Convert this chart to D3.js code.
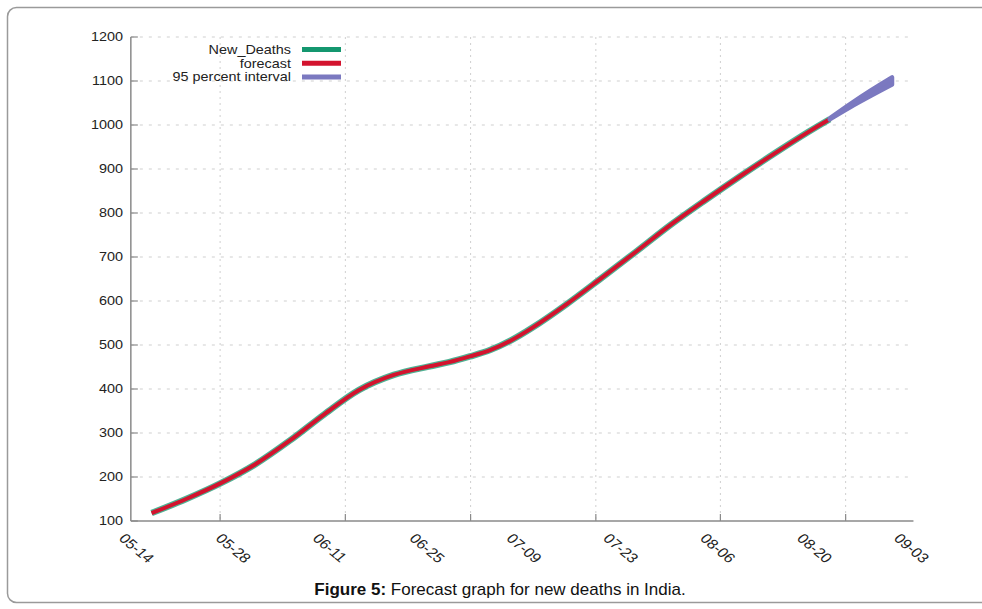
<!DOCTYPE html>
<html>
<head>
<meta charset="utf-8">
<script src="https://cdn.jsdelivr.net/npm/d3@7"></script>
<style>
  body { margin: 0; background: #fff; }
  text { font-family: "Liberation Sans", Arial, sans-serif; }
</style>
</head>
<body>
<svg id="chart" width="982" height="609"></svg>
<script>
// New_Deaths (the forecast fit sits right on top of it)
var obsDates = ["2020-05-19", "2020-05-24", "2020-05-29", "2020-06-03", "2020-06-08",
    "2020-06-13", "2020-06-18", "2020-06-23", "2020-06-28", "2020-07-01", "2020-07-04",
    "2020-07-07", "2020-07-10", "2020-07-13", "2020-07-18", "2020-07-23", "2020-07-28",
    "2020-08-02", "2020-08-07", "2020-08-12", "2020-08-17", "2020-08-22", "2020-08-25"];
var obsValues = [118, 150, 186, 229, 283, 343, 398, 432, 451, 461, 474,
    489, 511, 539, 593, 652, 712, 773, 829, 883, 935, 985, 1013];

// 95 percent interval of the forecast
var bandDates = ["2020-08-25", "2020-08-28", "2020-08-31", "2020-09-03"];
var bandLower = [1013, 1041, 1067, 1092];
var bandUpper = [1015, 1048, 1079, 1108];

// tick labels on the x axis (every 14 days)
var labelDates = ["2020-05-14", "2020-05-28", "2020-06-11", "2020-06-25", "2020-07-09",
    "2020-07-23", "2020-08-06", "2020-08-20", "2020-09-03"];
// the plot frame has its own ticks, in days after 05-14
var gridDays = [14.9, 33, 51.1, 69.2, 87.2, 105.3];
var frameDays = [2, 115.1];
var yTicks = [100, 200, 300, 400, 500, 600, 700, 800, 900, 1000, 1100, 1200];

var legendNames = ["New_Deaths", "forecast", "95 percent interval"];
var legendColors = ["#14976f", "#d3132e", "#7b79c0"];

var parse = d3.timeParse("%Y-%m-%d");
var start = parse(labelDates[0]);
function dayOf(s) { return (parse(s) - start) / 864e5; }

var svg = d3.select("#chart");

// frame of the figure
svg.append("rect")
    .attr("x", 7.5).attr("y", 7.5)
    .attr("width", 1000).attr("height", 595)
    .attr("rx", 9)
    .attr("fill", "none")
    .attr("stroke", "#9a9a9a")
    .attr("stroke-width", 1.5);

// scales
var x = d3.scaleLinear().domain([0, 112]).range([117, 892]);
var y = d3.scaleLinear().domain([100, 1200]).range([521, 37]);

var x0 = x(frameDays[0]), x1 = x(frameDays[1]);
var stretch = 1.2;  // the original image is stretched sideways

// grid
svg.append("g").selectAll("line")
    .data(yTicks.slice(1))
    .enter().append("line")
    .attr("x1", x0).attr("x2", x1)
    .attr("y1", function (d) { return y(d); })
    .attr("y2", function (d) { return y(d); })
    .attr("stroke", "#cfcfcf")
    .attr("stroke-dasharray", "3,6");

svg.append("g").selectAll("line")
    .data(gridDays)
    .enter().append("line")
    .attr("x1", function (d) { return x(d); })
    .attr("x2", function (d) { return x(d); })
    .attr("y1", y(1200)).attr("y2", y(100))
    .attr("stroke", "#cfcfcf")
    .attr("stroke-dasharray", "2,4");

// axes lines and ticks
svg.append("line")
    .attr("x1", x0).attr("x2", x0)
    .attr("y1", y(1200)).attr("y2", y(100))
    .attr("stroke", "#8a8a8a").attr("stroke-width", 1.5);
svg.append("line")
    .attr("x1", x0).attr("x2", x1)
    .attr("y1", y(100)).attr("y2", y(100))
    .attr("stroke", "#8a8a8a").attr("stroke-width", 1.5);

svg.append("g").selectAll("line")
    .data(yTicks)
    .enter().append("line")
    .attr("x1", x0).attr("x2", x0 + 7)
    .attr("y1", function (d) { return y(d); })
    .attr("y2", function (d) { return y(d); })
    .attr("stroke", "#8a8a8a").attr("stroke-width", 1.2);

svg.append("g").selectAll("line")
    .data(gridDays)
    .enter().append("line")
    .attr("x1", function (d) { return x(d); })
    .attr("x2", function (d) { return x(d); })
    .attr("y1", y(100)).attr("y2", y(100) - 7)
    .attr("stroke", "#8a8a8a").attr("stroke-width", 1.2);

// tick labels
svg.append("g").selectAll("text")
    .data(yTicks)
    .enter().append("text")
    .attr("transform", function (d) { return "translate(123," + y(d) + ") scale(" + stretch + ",1)"; })
    .attr("text-anchor", "end")
    .attr("dy", "0.35em")
    .attr("font-size", 12)
    .attr("fill", "#222")
    .text(function (d) { return d; });

var fmt = d3.timeFormat("%m-%d");
svg.append("g").selectAll("text")
    .data(labelDates)
    .enter().append("text")
    .attr("transform", function (d) {
        return "translate(" + (x(dayOf(d)) + 5) + ",536) scale(" + stretch + ",1) rotate(45)";
    })
    .attr("text-anchor", "start")
    .attr("dy", "0.35em")
    .attr("font-size", 13.5)
    .attr("fill", "#222")
    .text(function (d) { return fmt(parse(d)); });

// series
var line = d3.line()
    .x(function (d, i) { return x(dayOf(obsDates[i])); })
    .y(function (d) { return y(d); })
    .curve(d3.curveCatmullRom);

svg.append("path")
    .attr("d", line(obsValues))
    .attr("fill", "none")
    .attr("stroke", legendColors[0])
    .attr("stroke-width", 6.5)
    .attr("stroke-opacity", 0.75);

svg.append("path")
    .attr("d", line(obsValues))
    .attr("fill", "none")
    .attr("stroke", legendColors[1])
    .attr("stroke-width", 4);

var band = d3.area()
    .x(function (d, i) { return x(dayOf(bandDates[i])); })
    .y0(function (d, i) { return y(bandLower[i]); })
    .y1(function (d, i) { return y(bandUpper[i]); })
    .curve(d3.curveCatmullRom);

svg.append("path")
    .attr("d", band(bandLower))
    .attr("fill", legendColors[2])
    .attr("stroke", legendColors[2])
    .attr("stroke-width", 4.5)
    .attr("stroke-linejoin", "round");

// legend
var legend = svg.append("g").selectAll("g")
    .data(legendNames)
    .enter().append("g")
    .attr("transform", function (d, i) { return "translate(0," + (49.5 + i * 13.8) + ")"; });

legend.append("text")
    .attr("transform", "translate(291,0) scale(" + stretch + ",1)")
    .attr("text-anchor", "end")
    .attr("dy", "0.35em")
    .attr("font-size", 12)
    .attr("fill", "#222")
    .text(function (d) { return d; });

legend.append("line")
    .attr("x1", 302).attr("x2", 341)
    .attr("stroke", function (d, i) { return legendColors[i]; })
    .attr("stroke-width", 5);

// caption
var caption = svg.append("text")
    .attr("x", 500).attr("y", 595)
    .attr("text-anchor", "middle")
    .attr("font-size", 17)
    .attr("fill", "#111");
caption.append("tspan").attr("font-weight", "bold").text("Figure 5:");
caption.append("tspan").text(" Forecast graph for new deaths in India.");
</script>
</body>
</html>
